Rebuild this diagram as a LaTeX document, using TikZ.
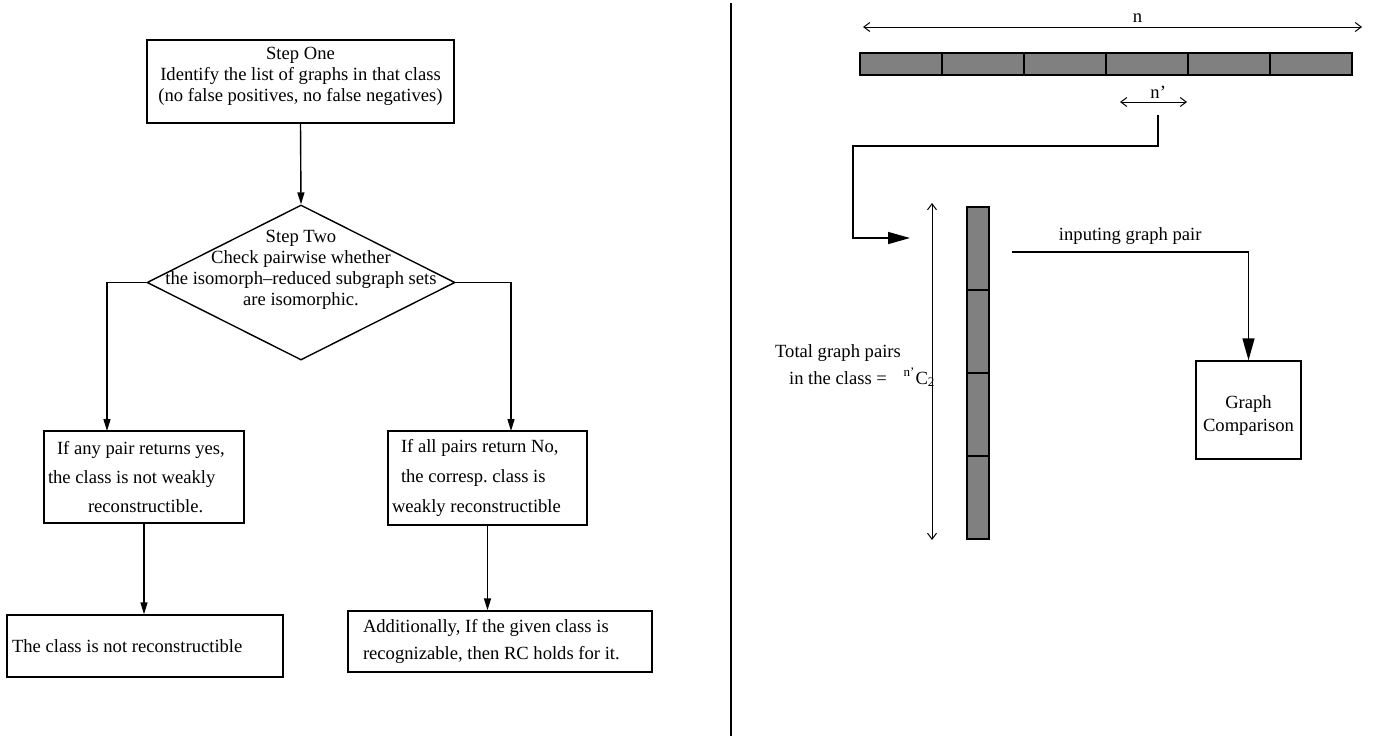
\documentclass[tikz,border=0pt]{standalone}
\usepackage{fontspec}
\setmainfont{Liberation Serif}
\usepackage{tikz}
\usetikzlibrary{arrows.meta,positioning,shapes.geometric}
\definecolor{cellgray}{gray}{0.5}

\begin{document}
\frenchspacing
\begin{tikzpicture}[
  x=0.5pt, y=-0.5pt,
  font=\fontsize{9.3}{10.5}\selectfont,
  line width=0.7pt,
  box/.style   ={draw, align=center, inner sep=2pt},
  lbox/.style  ={draw, align=flush left, inner sep=2pt},
  cell/.style  ={draw, fill=cellgray, inner sep=0pt,
                 minimum width=41pt, minimum height=11pt},
  ar/.style    ={-{Triangle[length=6pt,width=3.5pt]}},
  bigar/.style ={-{Triangle[length=11pt,width=6pt]}},
  dimar/.style ={{Straight Barb[length=3pt,width=4.5pt]}-{Straight Barb[length=3pt,width=4.5pt]},
                 line width=0.5pt}
]
\useasboundingbox (0,0) rectangle (1374,736);

% left half: the flow chart
\node[box, minimum width=153.5pt, minimum height=41.5pt] (one) at (300.5,81.5)
  {Step One\\Identify the list of graphs in that class\\
   (no false positives, no false negatives)\\[-3pt]\mbox{}};

\node[draw, diamond, minimum width=154pt, minimum height=77.5pt, inner sep=0pt]
  (two) at (301,282.5) {};
\node[align=center] (twotxt) at (301,270)
  {Step Two\\Check pairwise whether\\the isomorph--reduced subgraph sets\\
   are isomorphic.};

\node[lbox, text width=96pt, minimum height=46pt,
      font=\fontsize{9.3}{14.3}\selectfont] (yes) at (144,477)
  {\hspace{4.5pt}If any pair returns yes,\\the class is not weakly\\
   \hspace{20pt}reconstructible.};
\node[lbox, text width=95.5pt, minimum height=47pt,
      font=\fontsize{9.3}{15}\selectfont] (no) at (487.5,478)
  {\hspace{4.5pt}If all pairs return No,\\\hspace{4.5pt}the corresp. class is\\
   weakly reconstructible};

\node[lbox, inner xsep=2.5pt, text width=133pt, minimum height=31pt] (notrc) at (145,646)
  {The class is not reconstructible};
\node[lbox, inner xsep=7.5pt, text width=137pt, minimum height=30.5pt,
      font=\fontsize{9.3}{13.5}\selectfont] (rc) at (500,641.5)
  {Additionally, If the given class is\\recognizable, then RC holds for it.};

\coordinate (yesin) at (107,431);
\coordinate (noin)  at (511,431);

\draw[ar] (one.south) -- (two.north);
\draw[ar] (two.west) -| (yesin);
\draw[ar] (two.east) -| (noin);
\draw[ar] (yes.south) -- (yes.south |- notrc.north);
\draw[ar] (no.south) -- (no.south |- rc.north);

% divider
\draw (731,3) -- (731,736);

% right half: the pair scheme
\foreach \i in {0,...,5}
  \node[cell] (h\i) at ({901+82*\i},64) {};
\foreach \j in {0,...,3}
  \node[cell, minimum width=11pt, minimum height=41.5pt] (v\j) at (978,{248.5+83*\j}) {};

\coordinate (nl) at (863,27);
\coordinate (nr) at (1362,27);
\draw[dimar] (nl) -- node[above, pos=0.55, inner sep=2pt] (nlab) {n} (nr);

\coordinate (sl) at (1120,102);
\coordinate (sr) at (1187,102);
\draw[dimar] (sl) -- node[above, pos=0.57, inner sep=1.5pt] (slab) {n'} (sr);

\coordinate (pin)  at (1158,115);
\coordinate (pout) at (910,238);
\draw[bigar] (pin) |- (853,146) |- (pout);

\coordinate (vt) at (932,203);
\coordinate (vb) at (932,540);
\draw[dimar] (vt) -- (vb);

\node[align=center, font=\fontsize{9.3}{13.5}\selectfont] (tot) at (838,364.5)
  {Total graph pairs\\in the class =};
\node[anchor=base west, inner sep=0pt] (ncr) at (903,384)
  {\textsuperscript{n'}C\textsubscript{2}};

\node[box, minimum width=52.5pt, minimum height=49pt,
      font=\fontsize{9.3}{11.5}\selectfont] (cmp) at (1248.5,410)
  {\mbox{}\\Graph\\Comparison};

\coordinate (vout) at (1012,252);
\draw[bigar] (vout) -| node[above, pos=0.25] (inlab) {inputing graph pair} (cmp.north);

\end{tikzpicture}
\end{document}
